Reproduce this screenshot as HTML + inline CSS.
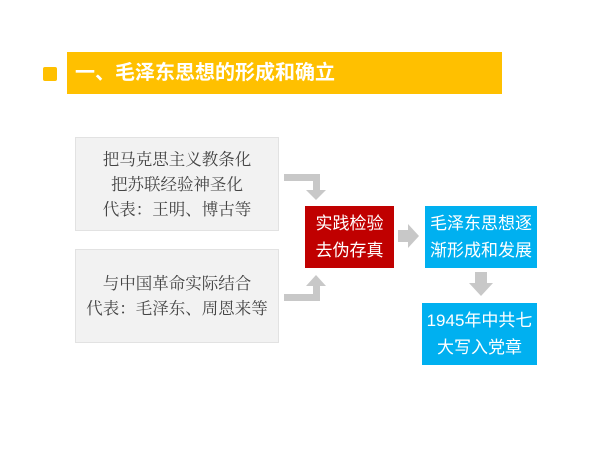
<!DOCTYPE html>
<html><head><meta charset="utf-8"><style>
body{margin:0;width:600px;height:450px;background:#fff;position:relative;overflow:hidden;font-family:"Liberation Sans","Noto Sans CJK SC",sans-serif}
.a{position:absolute;box-sizing:border-box}
.g{background:#f2f2f2;border:1px solid #e2e2e2;color:#444;font-family:"Liberation Serif","Noto Serif CJK SC","WenQuanYi Zen Hei",serif;font-size:16.5px;line-height:25px;text-align:center;display:flex;flex-direction:column;justify-content:center}
.c{color:#fff;font-size:17px;line-height:27px;text-align:center;display:flex;flex-direction:column;justify-content:center;border:1px solid #fff}
</style></head><body>
<div class="a" style="left:43px;top:67px;width:14px;height:14px;background:#ffc000;border-radius:2px"></div>
<div class="a" style="left:67px;top:52px;width:435px;height:42px;background:#ffc000;color:#fff;font-size:20px;line-height:42px;padding-left:8px;font-weight:bold">一、毛泽东思想的形成和确立</div>
<div class="a g" style="left:75px;top:137px;width:204px;height:94px">把马克思主义教条化<br>把苏联经验神圣化<br>代表：王明、博古等</div>
<div class="a g" style="left:75px;top:249px;width:204px;height:94px">与中国革命实际结合<br>代表：毛泽东、周恩来等</div>
<svg class="a" style="left:0;top:0" width="600" height="450">
<g fill="#c8c8c8">
<polygon points="284,174 320,174 320,190 326,190 316,200 306,190 313,190 313,181 284,181"/>
<polygon points="284,301 320,301 320,286 326,286 316,275 306,286 313,286 313,294 284,294"/>
<polygon points="398,230 408,230 408,224 419,236 408,248 408,242 398,242"/>
<polygon points="475,272 487,272 487,283 493,283 481,296 469,283 475,283"/>
</g></svg>
<div class="a c" style="left:304px;top:205px;width:91px;height:64px;background:#c00000">实践检验<br>去伪存真</div>
<div class="a c" style="left:424px;top:205px;width:114px;height:64px;background:#00b0f0">毛泽东思想逐<br>渐形成和发展</div>
<div class="a c" style="left:421px;top:302px;width:117px;height:64px;background:#00b0f0">1945年中共七<br>大写入党章</div>
</body></html>
